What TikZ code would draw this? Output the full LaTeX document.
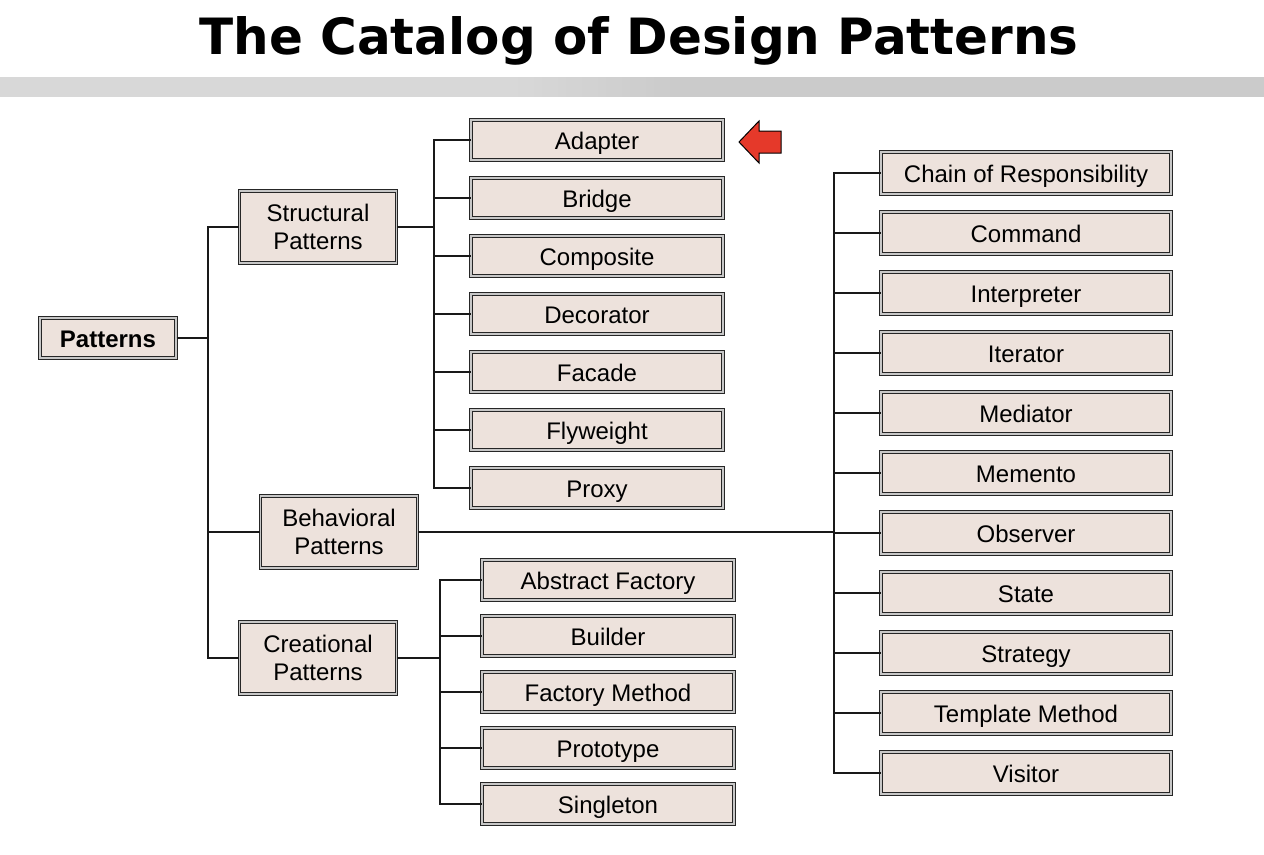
\documentclass[tikz,border=0pt]{standalone}
\usepackage{fontspec}
\setmainfont{Liberation Sans}
\newfontfamily\tahoma{DejaVu Sans}
\usetikzlibrary{positioning}

\definecolor{boxfill}{RGB}{237,226,220}
\definecolor{bandlight}{RGB}{216,216,216}
\definecolor{banddark}{RGB}{203,203,203}
\definecolor{markred}{RGB}{229,57,42}

\tikzset{
  pbox/.style={draw=black!85, line width=0.75pt, double=black!22, double distance=1.2pt,
    fill=boxfill, inner sep=0pt, font=\fontsize{18}{21.5}\selectfont},
  catbox/.style={pbox, align=center, minimum width=117.75pt, minimum height=54pt},
  leafbox/.style={pbox, text height=15pt, text depth=1pt, minimum width=189pt, minimum height=30pt},
  behbox/.style={leafbox, minimum width=217.5pt, minimum height=31.5pt},
  link/.style={draw=black!90, line width=1.2pt},
}

\begin{document}
\begin{tikzpicture}[x=0.75pt, y=-0.75pt]
  \useasboundingbox (0,0) rectangle (1264,854);

  \node[anchor=base, font=\tahoma\bfseries\fontsize{37.5}{40}\selectfont] (title) at (639,54)
    {The Catalog of Design Patterns};

  \fill[bandlight] (0,77) rectangle (510,97);
  \foreach \k in {0,...,20}
    \fill[banddark!\the\numexpr 5*\k\relax!bandlight] ({510+8*\k},77) rectangle ({519+8*\k},97);
  \fill[banddark] (678,77) rectangle (1264,97);

  \node[leafbox, minimum width=102pt, font=\bfseries\fontsize{18}{21.5}\selectfont]
    (pat) at (108,338) {Patterns};
  \node[catbox] (str) at (318,227) {Structural\\Patterns};
  \node[catbox] (beh) at (339,532) {Behavioral\\Patterns};
  \node[catbox] (cre) at (318,658) {Creational\\Patterns};

  \coordinate (rbus) at (208,338);
  \coordinate (sbus) at (434,227);
  \coordinate (bbus) at (834,532);
  \coordinate (cbus) at (440,658);

  \draw[link] (pat.east) -- (rbus);
  \foreach \c in {str,beh,cre}
    \draw[link] (\c.west) -| (rbus);
  \draw[link] (str.east) -- (sbus);
  \draw[link] (beh.east) -- (bbus);
  \draw[link] (cre.east) -- (cbus);

  \foreach \lbl [count=\i from 0] in {Adapter,Bridge,Composite,Decorator,Facade,Flyweight,Proxy} {
    \node[leafbox] (s\i) at (597,{140+58*\i}) {\lbl};
    \draw[link] (s\i.west) -| (sbus);
  }

  \foreach \lbl [count=\i from 0] in {Abstract Factory,Builder,Factory Method,Prototype,Singleton} {
    \node[leafbox] (c\i) at (608,{580+56*\i}) {\lbl};
    \draw[link] (c\i.west) -| (cbus);
  }

  \foreach \lbl [count=\i from 0] in {Chain of Responsibility,Command,Interpreter,Iterator,Mediator,
      Memento,Observer,State,Strategy,Template Method,Visitor} {
    \node[behbox] (b\i) at (1026,{173+60*\i}) {\lbl};
    \draw[link] (b\i.west) -| (bbus);
  }

  \filldraw[fill=markred, draw=black, line width=0.75pt]
    (739,142) -- (759,121) -- (759,131) -- (781,131) -- (781,153) -- (759,153) -- (759,163) -- cycle;
\end{tikzpicture}
\end{document}
